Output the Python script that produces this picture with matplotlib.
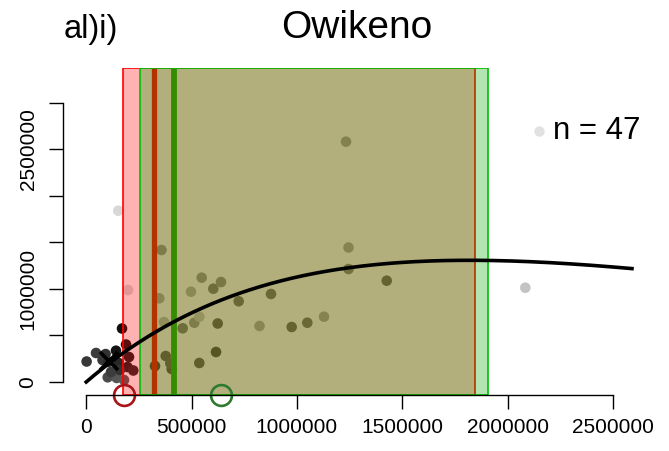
import numpy as np
import matplotlib
matplotlib.use("Agg")
import matplotlib.pyplot as plt

plt.rcParams['font.family'] = ['Liberation Sans', 'DejaVu Sans']

# Spawners (S) and recruits (R) by brood year, with grey shade per year
spawners = [2000, 46500, 77400, 102000, 144700, 141400, 154200, 169900, 152300,
            2083800, 188900, 196000, 223500, 179400, 198400, 357300, 346900,
            369200, 326500, 377300, 405700, 399100, 458000, 497300, 513000,
            536700, 536700, 548100, 603200, 616000, 624000, 639700, 723700,
            822400, 877000, 975200, 1049300, 1128500, 1232900, 1244800,
            1244800, 1426100, 117700, 105800, 203100, 160400, 92000]
recruits = [220000, 311500, 236300, 50500, 43000, 336200, 204100, 574600,
            1840000, 1012900, 402800, 161100, 123500, 21500, 988200, 1417800,
            899000, 644500, 171900, 279300, 139600, 200900, 576800, 969900,
            636900, 701400, 204100, 1120300, 1002100, 322200, 628300, 1074100,
            866800, 601500, 945200, 590800, 636900, 701400, 2581100, 1444700,
            1213700, 1088100, 107400, 214800, 268500, 128900, 300000]
grey_level = [55, 60, 55, 75, 85, 20, 40, 15, 215, 195, 20, 30, 40, 90, 215,
              150, 170, 185, 60, 90, 80, 95, 120, 175, 150, 195, 90, 150, 120,
              70, 90, 140, 110, 170, 110, 100, 110, 165, 160, 165, 125, 100,
              60, 45, 30, 50, 50]

# Ricker fit: R = a * S * exp(-b * S)
log_a = 0.67
b_ricker = 5.5e-7
s_max_curve = 2590000

# Reference points and intervals
smsy_ci = (173200, 1842700)
sgen_ci = (255300, 1905400)
smsy_line = 323200
sgen_line = 418100
smsy_circle = 180800
sgen_circle = 639700
current_point = (109600, 228800)

x_ticks = [0, 500000, 1000000, 1500000, 2000000, 2500000]
x_labels = ['0', '500000', '1000000', '1500000', '2000000', '2500000']
y_ticks = [0, 500000, 1000000, 1500000, 2000000, 2500000, 3000000]
y_labels = ['0', '', '1000000', '', '', '2500000', '']

W, H = 669, 451
fig = plt.figure(figsize=(W / 100, H / 100), dpi=100)
ax = fig.add_axes([63.3 / W, (H - 394.5) / H, (651 - 63.3) / W, (394.5 - 68.3) / H])
ax.set_xlim(-108700, 2680300)
ax.set_ylim(-134300, 3369500)

cols = [(g / 255, g / 255, g / 255) for g in grey_level]
ax.scatter(spawners, recruits, s=58, c=cols, edgecolors='none', zorder=1)

ax.axvline(smsy_line, color=(1.0, 0.0, 0.0), lw=3.8, zorder=2)
ax.axvline(sgen_line, color=(0.0, 0.72, 0.0), lw=4.2, zorder=2)

ax.axvspan(*smsy_ci, facecolor=(1, 0, 0, 0.3), edgecolor=(1, 0, 0, 1),
           lw=1.2, zorder=3)
ax.axvspan(*sgen_ci, facecolor=(0, 0.67, 0, 0.3), edgecolor=(0, 0.75, 0, 1),
           lw=1.2, zorder=4)

s_curve = np.linspace(0, s_max_curve, 300)
r_curve = np.exp(log_a) * s_curve * np.exp(-b_ricker * s_curve)
ax.plot(s_curve, r_curve, color='black', lw=2.6, zorder=5)

ax.plot(*current_point, marker='x', color='black', ms=13, mew=2.6, zorder=6)

y0 = ax.get_ylim()[0]
ax.plot(smsy_circle, y0, marker='o', ms=15, mfc='none', mec='#A8141A',
        mew=1.9, clip_on=False, zorder=7)
ax.plot(sgen_circle, y0, marker='o', ms=15, mfc='none', mec='#2E7A2E',
        mew=1.9, clip_on=False, zorder=7)

for side in ['top', 'right']:
    ax.spines[side].set_visible(False)
ax.spines['bottom'].set_bounds(0, 2500000)
ax.spines['left'].set_bounds(0, 3000000)
for side in ['bottom', 'left']:
    ax.spines[side].set_linewidth(1.0)
    ax.spines[side].set_zorder(8)

ax.set_xticks(x_ticks)
ax.set_xticklabels(x_labels)
ax.set_yticks(y_ticks)
ax.set_yticklabels(y_labels, rotation=90, va='center')
ax.tick_params(axis='both', direction='out', length=10, width=1.0,
               labelsize=15)
ax.tick_params(axis='x', pad=7)
ax.tick_params(axis='y', pad=8.5)
ax.set_facecolor('white')

fig.text(357 / W, (H - 37.7) / H, 'Owikeno', ha='center', va='baseline',
         fontsize=28)
fig.text(64 / W, (H - 37.7) / H, 'al)i)', ha='left', va='baseline',
         fontsize=23.5)
fig.text(553 / W, (H - 139) / H, 'n = 47', ha='left', va='baseline',
         fontsize=22.5)
fig.add_artist(plt.Line2D([539.3 / W], [(H - 131) / H], marker='o', ms=7.5,
                          color=(225 / 255,) * 3, mec='none',
                          transform=fig.transFigure))

fig.savefig('out.png', dpi=100)
